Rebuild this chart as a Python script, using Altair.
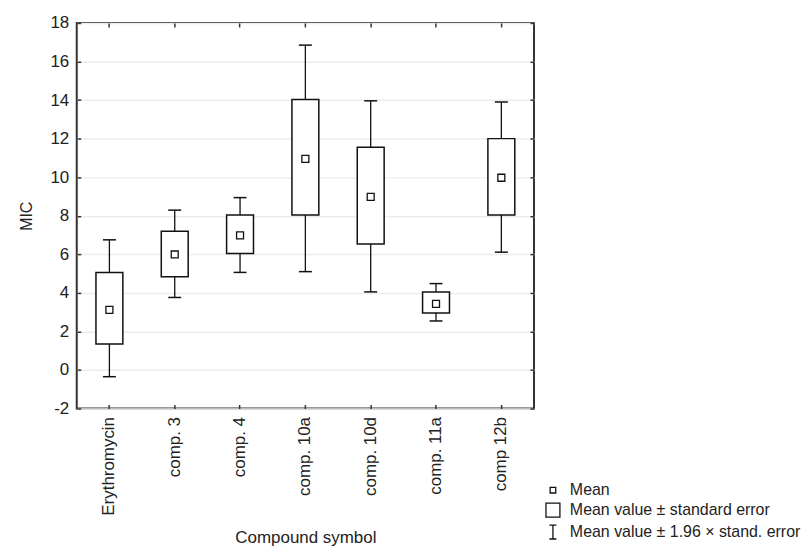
import altair as alt
import pandas as pd

categories = ["Erythromycin", "comp. 3", "comp. 4", "comp. 10a", "comp. 10d", "comp. 11a", "comp 12b"]
means = [3.12, 5.99, 6.98, 10.95, 8.98, 3.43, 9.97]
se_low = [1.35, 4.84, 6.04, 8.04, 6.54, 2.96, 8.04]
se_high = [5.05, 7.19, 8.04, 14.03, 11.55, 4.05, 12.0]
ci_low = [-0.35, 3.76, 5.06, 5.1, 4.05, 2.54, 6.11]
ci_high = [6.75, 8.29, 8.94, 16.85, 13.96, 4.48, 13.9]
legend_labels = ["Mean", "Mean value \u00b1 standard error", "Mean value \u00b1 1.96 \u00d7 stand. error"]
legend_shapes = [
    "M-0.4,-0.4H0.4V0.4H-0.4Z",
    "M-1,-1H1V1H-1Z",
    "M-0.5,-1H0.5M0,-1V1M-0.5,1H0.5",
]
y_ticks = list(range(-2, 19, 2))

df = pd.DataFrame({
    "cat": categories,
    "mean": means,
    "se_low": se_low,
    "se_high": se_high,
    "ci_low": ci_low,
    "ci_high": ci_high,
    "kind": ["Mean"] * len(categories),
})

FONT = "Liberation Sans"
INK = "#111111"

x_scale = alt.Scale(domain=categories, paddingInner=0, paddingOuter=0)
y_scale = alt.Scale(domain=[-2, 18], nice=False, zero=False)

base = alt.Chart(df)

whiskers = base.mark_rule(color=INK, strokeWidth=1.3).encode(
    x=alt.X("cat:N", scale=x_scale, sort=None,
            axis=alt.Axis(orient="bottom", title="Compound symbol", labelAngle=270,
                          labelPadding=8, tickSize=0, domain=False, grid=False,
                          labelFontSize=17, labelFont=FONT, labelColor="#222",
                          titleFontSize=17, titleFont=FONT, titleFontWeight="normal",
                          titleColor="#222", titlePadding=14)),
    y=alt.Y("ci_low:Q", scale=y_scale,
            axis=alt.Axis(orient="left", values=y_ticks, title="MIC", grid=True,
                          gridColor="#ececec", gridWidth=1.5, tickSize=0, domain=False,
                          labelPadding=8, labelFontSize=17, labelFont=FONT, labelColor="#222",
                          labelExpr="'' + datum.value",
                          titleFontSize=16, titleFont=FONT, titleFontWeight="normal",
                          titleColor="#222", titlePadding=16)),
    y2="ci_high:Q",
)

boxes = base.mark_bar(size=27, fill="white", stroke=INK, strokeWidth=1.5).encode(
    x=alt.X("cat:N", scale=x_scale, sort=None,
            axis=alt.Axis(orient="bottom", offset=-4, tickSize=4, tickColor="#333",
                          tickWidth=1.5, labels=False, domain=False, grid=False, title=None)),
    y=alt.Y("se_low:Q", scale=y_scale,
            axis=alt.Axis(orient="left", offset=-4, tickSize=4, tickColor="#333",
                          tickWidth=1.5, values=y_ticks, labels=False, domain=False,
                          grid=False, title=None)),
    y2="se_high:Q",
)

caps_low = base.mark_tick(size=13, thickness=1.5, color=INK, opacity=1).encode(
    x=alt.X("cat:N", scale=x_scale, sort=None,
            axis=alt.Axis(orient="top", offset=-4, tickSize=4, tickColor="#333",
                          tickWidth=1.5, labels=False, domain=False, grid=False, title=None)),
    y=alt.Y("ci_low:Q", scale=y_scale,
            axis=alt.Axis(orient="right", offset=-4, tickSize=4, tickColor="#333",
                          tickWidth=1.5, values=y_ticks, labels=False, domain=False,
                          grid=False, title=None)),
)

caps_high = base.mark_tick(size=13, thickness=1.5, color=INK, opacity=1).encode(
    x=alt.X("cat:N", scale=x_scale, sort=None, axis=None),
    y=alt.Y("ci_high:Q", scale=y_scale, axis=None),
)

mean_pts = base.mark_point(filled=False, size=306, strokeWidth=1.3, color=INK, opacity=1).encode(
    x=alt.X("cat:N", scale=x_scale, sort=None, axis=None),
    y=alt.Y("mean:Q", scale=y_scale, axis=None),
    shape=alt.Shape("kind:N",
                    scale=alt.Scale(domain=legend_labels, range=legend_shapes),
                    legend=alt.Legend(title=None, orient="none", legendX=470, legendY=461,
                                      symbolSize=196, symbolStrokeColor=INK,
                                      symbolFillColor="white", symbolStrokeWidth=1.3,
                                      labelFontSize=16, labelFont=FONT, labelColor="#222",
                                      labelOffset=9, rowPadding=2, labelLimit=400)),
)

chart = alt.layer(whiskers, boxes, caps_low, caps_high, mean_pts).resolve_axis(
    x="independent", y="independent"
).properties(
    width=459, height=387,
    padding={"left": 10, "top": 5, "right": 0, "bottom": 0},
    background="white",
).configure_view(stroke="#333333", strokeWidth=2)

chart.save("out.html", embed_options={"renderer": "svg", "actions": False})
